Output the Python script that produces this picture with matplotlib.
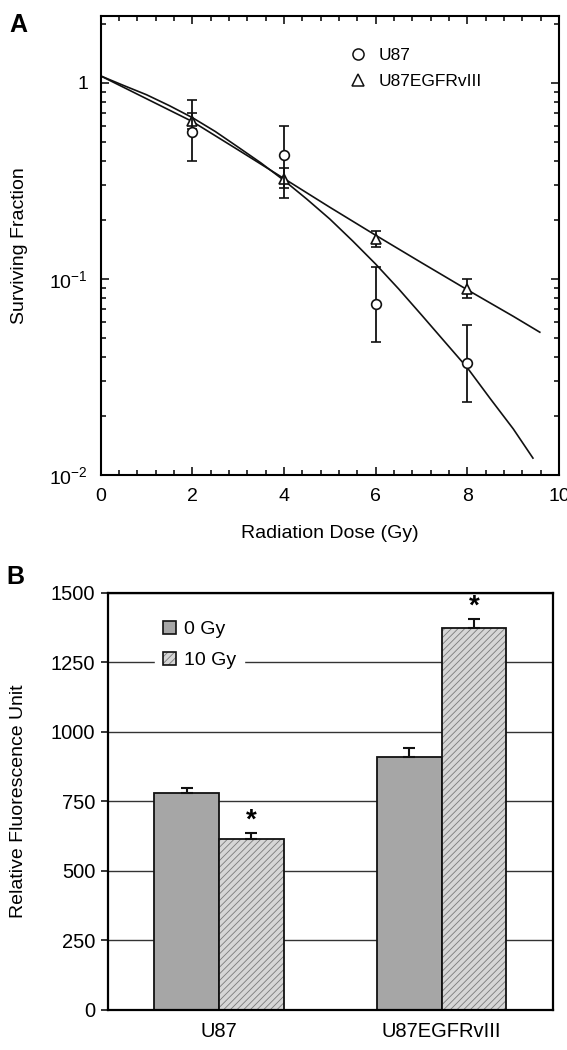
import matplotlib
matplotlib.use('Agg')
import matplotlib.pyplot as plt
import numpy as np
from matplotlib.ticker import FixedLocator, FixedFormatter, LogLocator, NullFormatter, MultipleLocator
from matplotlib.lines import Line2D
from matplotlib.patches import Patch

plt.rcParams['font.family'] = ['Liberation Sans', 'DejaVu Sans']
plt.rcParams['mathtext.fontset'] = 'custom'
plt.rcParams['mathtext.rm'] = 'Liberation Sans'
plt.rcParams['mathtext.it'] = 'Liberation Sans:italic'
plt.rcParams['mathtext.bf'] = 'Liberation Sans:bold'
plt.rcParams['hatch.linewidth'] = 0.6

# ---- panel A: clonogenic survival ----
dose = [2, 4, 6, 8]
u87_sf = [0.565, 0.43, 0.0743, 0.0372]
u87_lo = [0.40, 0.26, 0.0478, 0.0236]
u87_hi = [0.815, 0.60, 0.1155, 0.058]
egfr_sf = [0.64, 0.325, 0.159, 0.089]
egfr_lo = [0.58, 0.29, 0.145, 0.080]
egfr_hi = [0.706, 0.37, 0.175, 0.100]

# fitted curves
fit_dose_u87 = [0, 0.5, 1, 1.5, 2, 2.5, 3, 3.5, 4, 4.5, 5, 5.5, 6, 6.5, 7, 7.5, 8, 8.5, 9, 9.43]
fit_u87 = [1.085, 0.97, 0.87, 0.765, 0.665, 0.565, 0.47, 0.39, 0.318, 0.255, 0.202, 0.156,
           0.119, 0.089, 0.0655, 0.048, 0.0352, 0.0245, 0.0172, 0.0122]
fit_dose_egfr = [0, 1, 2, 3, 4, 5, 6, 7, 8, 9, 9.58]
fit_egfr = [1.085, 0.83, 0.635, 0.455, 0.325, 0.232, 0.167, 0.121, 0.088, 0.0645, 0.0535]

y_ticks_a = [0.01, 0.1, 1]
y_labels_a = ['$10^{-2}$', '$10^{-1}$', '1']

# ---- panel B: fluorescence ----
cells = ['U87', 'U87EGFRvIII']
rfu_0gy = [780, 908]
rfu_0gy_err = [17, 35]
rfu_10gy = [613, 1372]
rfu_10gy_err = [24, 33]

fig = plt.figure(figsize=(5.67, 10.5), dpi=100)

# panel A
axA = fig.add_axes([0.1776, 0.5476, 0.8084, 0.4374])
axA.plot(fit_dose_u87, fit_u87, color='#111111', lw=1.2, zorder=2)
axA.plot(fit_dose_egfr, fit_egfr, color='#111111', lw=1.2, zorder=2)

u87_err = [np.subtract(u87_sf, u87_lo), np.subtract(u87_hi, u87_sf)]
egfr_err = [np.subtract(egfr_sf, egfr_lo), np.subtract(egfr_hi, egfr_sf)]
axA.errorbar(dose, egfr_sf, yerr=egfr_err, fmt='^', ms=7, mfc='white', mec='#111111',
             mew=1.2, ecolor='#111111', elinewidth=1.3, capsize=3.5, capthick=1.3, zorder=3)
axA.errorbar(dose, u87_sf, yerr=u87_err, fmt='o', ms=7, mfc='white', mec='#111111',
             mew=1.2, ecolor='#111111', elinewidth=1.3, capsize=3.5, capthick=1.3, zorder=4)

axA.set_yscale('log')
axA.set_xlim(0, 10)
axA.set_ylim(0.01, 2.2)
axA.xaxis.set_major_locator(MultipleLocator(2))
axA.xaxis.set_minor_locator(MultipleLocator(0.4))
axA.yaxis.set_major_locator(FixedLocator(y_ticks_a))
axA.yaxis.set_major_formatter(FixedFormatter(y_labels_a))
axA.yaxis.set_minor_locator(LogLocator(base=10, subs=range(2, 10)))
axA.yaxis.set_minor_formatter(NullFormatter())
axA.tick_params(which='both', direction='in', top=True, right=True, width=1.1, labelsize=14)
axA.tick_params(which='major', length=6, pad=9)
axA.tick_params(which='minor', length=3.5)
for s in axA.spines.values():
    s.set_linewidth(1.5)
axA.set_xlabel('Radiation Dose (Gy)', fontsize=14)
axA.set_ylabel('Surviving Fraction', fontsize=14)
axA.xaxis.set_label_coords(0.5, -0.108)
axA.yaxis.set_label_coords(-0.159, 0.5)

leg_handles = [Line2D([], [], ls='none', marker='o', ms=8, mfc='white', mec='#111111', mew=1.1),
               Line2D([], [], ls='none', marker='^', ms=8, mfc='white', mec='#111111', mew=1.1)]
axA.legend(leg_handles, ['U87', 'U87EGFRvIII'], loc='upper left', bbox_to_anchor=(0.543, 0.93),
           frameon=False, fontsize=12.5, borderpad=0, borderaxespad=0, handlelength=1.0,
           handletextpad=0.65, labelspacing=0.62)
fig.text(0.016, 0.988, 'A', fontsize=18, fontweight='bold', va='top', ha='left')

# panel B
axB = fig.add_axes([0.19, 0.0381, 0.7853, 0.3974])
x = np.arange(len(cells))
w = 0.29
axB.bar(x - w / 2, rfu_0gy, width=w, color='#a6a6a6', edgecolor='#111111', lw=1.3, zorder=2)
axB.bar(x + w / 2, rfu_10gy, width=w, color='#d6d6d6', edgecolor='#7a7a7a', lw=0,
        hatch='/////', zorder=2)
axB.bar(x + w / 2, rfu_10gy, width=w, fill=False, edgecolor='#111111', lw=1.3, zorder=2.1)
axB.errorbar(x - w / 2, rfu_0gy, yerr=[np.zeros(len(cells)), rfu_0gy_err], fmt='none',
             ecolor='#111111', elinewidth=1.5, capsize=4.5, capthick=1.5, zorder=3)
axB.errorbar(x + w / 2, rfu_10gy, yerr=[np.zeros(len(cells)), rfu_10gy_err], fmt='none',
             ecolor='#111111', elinewidth=1.5, capsize=4.5, capthick=1.5, zorder=3)
for xi, v, e in zip(x + w / 2, rfu_10gy, rfu_10gy_err):
    axB.text(xi, v + e + 45, '*', ha='center', va='center', fontsize=20, fontweight='bold')

axB.set_xlim(-0.5, 1.5)
axB.set_ylim(0, 1500)
axB.set_yticks(np.arange(0, 1501, 250))
axB.set_xticks(x)
axB.set_xticklabels(cells)
axB.yaxis.grid(True, color='#333333', lw=1.0)
axB.set_axisbelow(True)
axB.tick_params(axis='y', direction='out', length=5, width=1.1, labelsize=14.5, pad=4)
axB.tick_params(axis='x', length=0, labelsize=14.5, pad=9)
for s in axB.spines.values():
    s.set_linewidth(1.6)
axB.set_ylabel('Relative Fluorescence Unit', fontsize=14)
axB.yaxis.set_label_coords(-0.181, 0.5)

h0 = Patch(facecolor='#a6a6a6', edgecolor='#111111', lw=1.2)
h10 = (Patch(facecolor='#d6d6d6', edgecolor='#7a7a7a', lw=0, hatch='/////'),
       Patch(fill=False, edgecolor='#111111', lw=1.2))
legB = axB.legend([h0, h10], ['0 Gy', '10 Gy'], loc='upper left', bbox_to_anchor=(0.106, 0.952),
                  borderaxespad=0, fontsize=14, frameon=True, fancybox=False, framealpha=1,
                  handlelength=0.68, handleheight=0.68, handletextpad=0.4, labelspacing=0.7)
legB.get_frame().set_edgecolor('white')
legB.get_frame().set_facecolor('white')
fig.text(0.012, 0.462, 'B', fontsize=18, fontweight='bold', va='top', ha='left')

fig.savefig('out.png', dpi=100)
